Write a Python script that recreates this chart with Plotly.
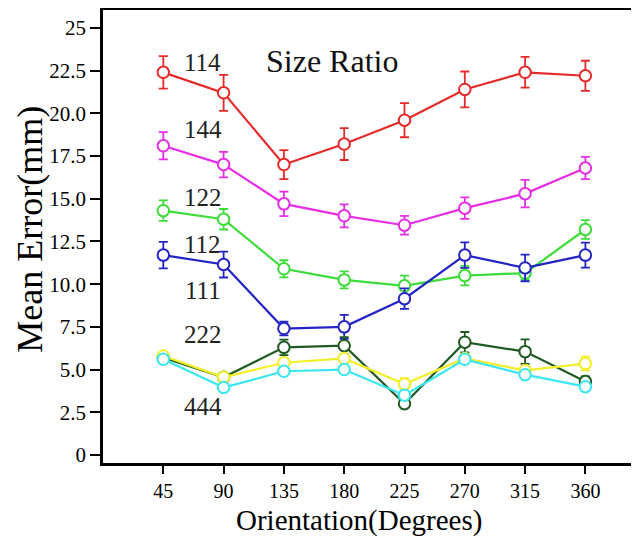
import plotly.graph_objects as go

orientation = [45, 90, 135, 180, 225, 270, 315, 360]

series_names = ["114", "144", "122", "112", "111", "222", "444"]
series_colors = ["#e52a2a", "#e62ee6", "#3ddc3a", "#2424c4", "#1f5a22", "#f2ee2a", "#3ae6ef"]

mean_114 = [22.4, 21.2, 17.0, 18.2, 19.6, 21.4, 22.4, 22.2]
err_114 = [0.95, 1.05, 0.85, 0.93, 1.0, 1.05, 0.9, 0.88]

mean_144 = [18.1, 17.0, 14.7, 14.0, 13.45, 14.45, 15.3, 16.8]
err_144 = [0.8, 0.75, 0.72, 0.67, 0.55, 0.63, 0.8, 0.65]

mean_122 = [14.3, 13.8, 10.9, 10.25, 9.9, 10.5, 10.65, 13.2]
err_122 = [0.6, 0.6, 0.5, 0.5, 0.6, 0.57, 0.4, 0.55]

mean_112 = [11.7, 11.15, 7.4, 7.5, 9.15, 11.7, 10.95, 11.7]
err_112 = [0.78, 0.76, 0.4, 0.7, 0.6, 0.75, 0.78, 0.73]

mean_111 = [5.7, 4.55, 6.3, 6.4, 3.0, 6.6, 6.05, 4.3]
err_111 = [0.15, 0.15, 0.45, 0.5, 0.2, 0.6, 0.72, 0.3]

mean_222 = [5.8, 4.55, 5.4, 5.65, 4.15, 5.65, 4.95, 5.35]
err_222 = [0.15, 0.15, 0.2, 0.2, 0.35, 0.2, 0.15, 0.4]

mean_444 = [5.6, 3.95, 4.9, 5.0, 3.5, 5.6, 4.7, 4.0]
err_444 = [0.1, 0.1, 0.1, 0.1, 0.1, 0.1, 0.1, 0.1]

means = [mean_114, mean_144, mean_122, mean_112, mean_111, mean_222, mean_444]
errs = [err_114, err_144, err_122, err_112, err_111, err_222, err_444]

y_tickvals = [0, 2.5, 5, 7.5, 10, 12.5, 15, 17.5, 20, 22.5, 25]
y_ticktext = ["0", "2.5", "5.0", "7.5", "10.0", "12.5", "15.0", "17.5", "20.0", "22.5", "25"]

x_title = "Orientation(Degrees)"
y_title = "Mean Error(mm)"
chart_note = "Size Ratio"

# label positions in data coordinates
label_x = [74.6, 74.6, 74.6, 74.6, 74.6, 74.6, 74.6]
label_y = [23.0, 19.03, 15.1, 12.35, 9.6, 7.03, 2.81]

FONT = "Liberation Serif"

fig = go.Figure()
for name, color, m, e in zip(series_names, series_colors, means, errs):
    fig.add_trace(go.Scatter(
        x=orientation, y=m, name=name, mode="lines+markers",
        line=dict(color=color, width=2.2),
        marker=dict(symbol="circle", size=11.5, color="white",
                    line=dict(color=color, width=2)),
        error_y=dict(type="data", array=e, visible=True, color=color,
                     thickness=1.8, width=4.5),
        showlegend=False,
    ))

for name, lx, ly in zip(series_names, label_x, label_y):
    fig.add_annotation(x=lx, y=ly, text=name, showarrow=False,
                       font=dict(family=FONT, size=25, color="#222222"))

fig.add_annotation(x=171, y=23.07, text=chart_note, showarrow=False,
                   font=dict(family=FONT, size=32, color="#111111"))

# axis titles
fig.add_annotation(xref="paper", yref="paper", x=0.478, y=0, yshift=-57,
                   yanchor="middle", xanchor="center", text=x_title, showarrow=False,
                   font=dict(family=FONT, size=29, color="black"))
fig.add_annotation(xref="paper", yref="paper", x=0, xshift=-73, y=0.515,
                   xanchor="center", yanchor="middle", textangle=-90,
                   text=y_title, showarrow=False,
                   font=dict(family=FONT, size=36, color="black"))

fig.update_layout(
    width=631, height=530,
    margin=dict(l=95, r=0, t=2, b=75),
    paper_bgcolor="white", plot_bgcolor="white",
    font=dict(family=FONT, color="black"),
)
fig.update_xaxes(
    range=[0, 400], tickvals=orientation, ticks="outside", ticklen=8,
    tickwidth=2, tickcolor="black", showline=True, linecolor="black",
    linewidth=2.5, mirror=True, showgrid=False, zeroline=False,
    automargin=False, tickfont=dict(family=FONT, size=20),
)
fig.update_yaxes(
    range=[-0.47, 26.05], tickvals=y_tickvals, ticktext=y_ticktext,
    ticks="outside", ticklen=10, tickwidth=2, tickcolor="black",
    showline=True, linecolor="black", linewidth=2.5, showgrid=False,
    zeroline=False, automargin=False, tickfont=dict(family=FONT, size=21),
)

fig.write_html("out.html")
